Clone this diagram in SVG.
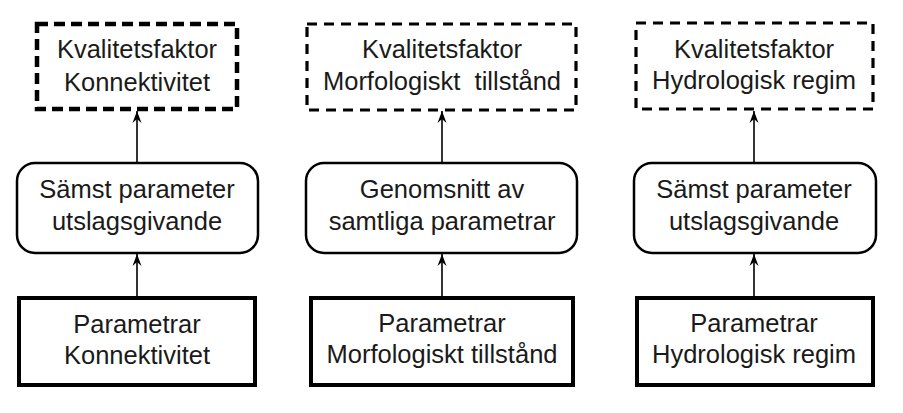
<svg xmlns="http://www.w3.org/2000/svg" width="903" height="413" viewBox="0 0 903 413">
<style>
text{font-family:"Liberation Sans",Arial,sans-serif;font-size:25.5px;fill:#1a1a1a;text-anchor:middle;white-space:pre}
.dash{fill:#fff;stroke:#000;stroke-width:4.5;stroke-dasharray:11 6}
.dash2{fill:#fff;stroke:#000;stroke-width:3.2;stroke-dasharray:10 7}
.round{fill:#fff;stroke:#000;stroke-width:2.5}
.solid{fill:#fff;stroke:#000;stroke-width:4}
.conn{stroke:#000;stroke-width:1.6;fill:none}
</style>
<defs>
<marker id="ah" viewBox="-13 -6 14 12" refX="0" refY="0" markerWidth="14" markerHeight="12" markerUnits="userSpaceOnUse" orient="auto">
<path d="M0,0 L-12,-4.5 L-8,0 L-12,4.5 Z" fill="#000"/>
</marker>
</defs>
<rect width="903" height="413" fill="#fff"/>
<g id="connectors">
<line class="conn" x1="137" y1="163" x2="137" y2="111" marker-end="url(#ah)"/>
<line class="conn" x1="137" y1="297" x2="137" y2="254" marker-end="url(#ah)"/>
<line class="conn" x1="442" y1="163" x2="442" y2="111" marker-end="url(#ah)"/>
<line class="conn" x1="442" y1="297" x2="442" y2="254" marker-end="url(#ah)"/>
<line class="conn" x1="754" y1="163" x2="754" y2="111" marker-end="url(#ah)"/>
<line class="conn" x1="754" y1="297" x2="754" y2="254" marker-end="url(#ah)"/>
</g>
<g id="kf-konnektivitet">
<rect class="dash" x="37" y="24" width="200" height="85"/>
<text x="137" y="58">Kvalitetsfaktor</text>
<text x="137" y="91">Konnektivitet</text>
</g>
<g id="kf-morfologi">
<rect class="dash2" x="307" y="24" width="269" height="86"/>
<text x="442" y="58">Kvalitetsfaktor</text>
<text x="442" y="90">Morfologiskt  tillstånd</text>
</g>
<g id="kf-hydrologi">
<rect class="dash2" x="636" y="23" width="237" height="86"/>
<text x="754" y="58">Kvalitetsfaktor</text>
<text x="754" y="89">Hydrologisk regim</text>
</g>
<g id="agg-konnektivitet">
<rect class="round" x="17" y="163" width="241" height="90" rx="18"/>
<text x="137" y="198">Sämst parameter</text>
<text x="137" y="230">utslagsgivande</text>
</g>
<g id="agg-morfologi">
<rect class="round" x="306" y="163" width="271" height="90" rx="18"/>
<text x="442" y="198">Genomsnitt av</text>
<text x="442" y="230">samtliga parametrar</text>
</g>
<g id="agg-hydrologi">
<rect class="round" x="634" y="163" width="242" height="90" rx="18"/>
<text x="754" y="198">Sämst parameter</text>
<text x="754" y="230">utslagsgivande</text>
</g>
<g id="par-konnektivitet">
<rect class="solid" x="19" y="298" width="236" height="87"/>
<text x="137" y="333">Parametrar</text>
<text x="137" y="364">Konnektivitet</text>
</g>
<g id="par-morfologi">
<rect class="solid" x="311" y="298" width="262" height="87"/>
<text x="442" y="332">Parametrar</text>
<text x="442" y="363">Morfologiskt tillstånd</text>
</g>
<g id="par-hydrologi">
<rect class="solid" x="637" y="298" width="236" height="87"/>
<text x="754" y="332">Parametrar</text>
<text x="754" y="363">Hydrologisk regim</text>
</g>
</svg>
